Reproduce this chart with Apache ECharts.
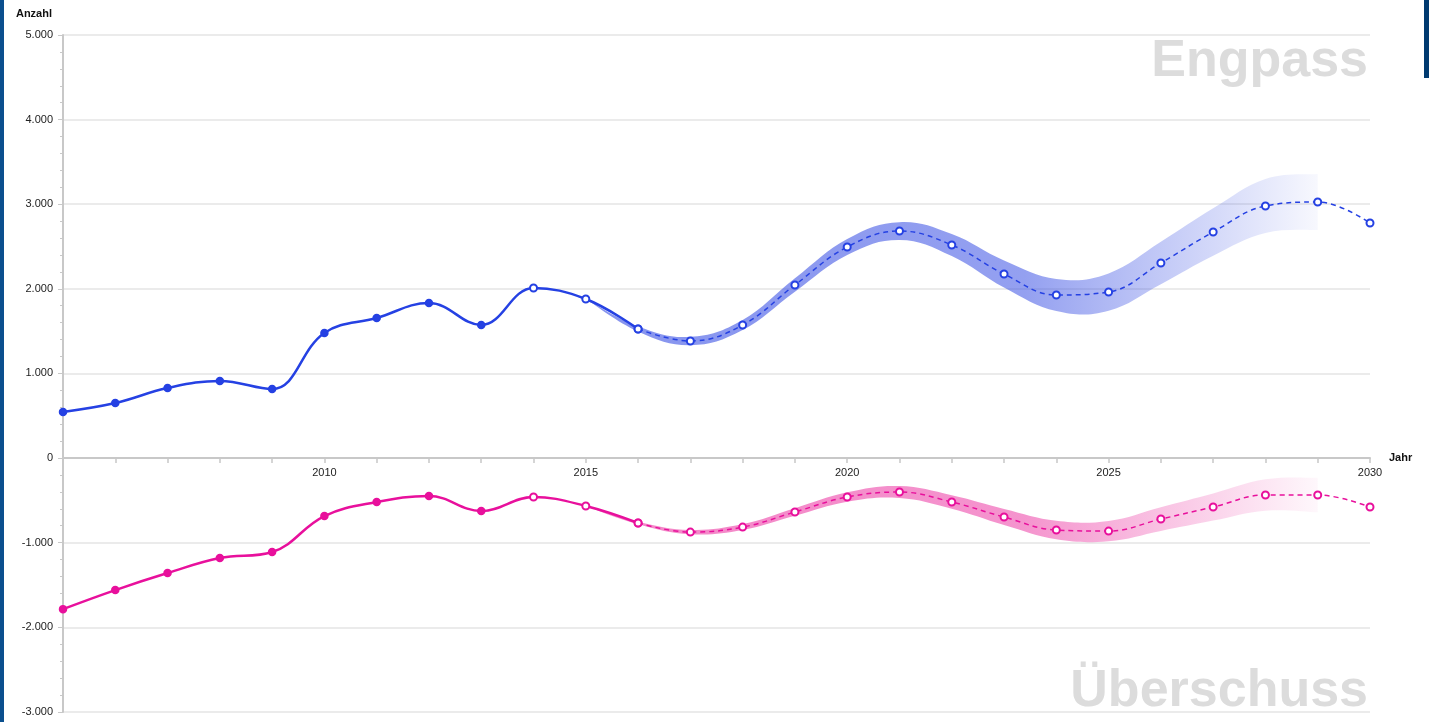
<!DOCTYPE html>
<html>
<head>
<meta charset="utf-8">
<title>Engpass / Überschuss</title>
<script src="https://cdn.jsdelivr.net/npm/echarts@6/dist/echarts.min.js"></script>
<style>
  html, body { margin: 0; padding: 0; background: #fff; }
  #chart { width: 1429px; height: 722px; }
</style>
</head>
<body>
<div id="chart"></div>
<script>
// Jahre
var years = [2005, 2006, 2007, 2008, 2009, 2010, 2011, 2012, 2013, 2014, 2015, 2016, 2017,
             2018, 2019, 2020, 2021, 2022, 2023, 2024, 2025, 2026, 2027, 2028, 2029, 2030];

// Engpass (blau)
var engpass = [545, 650, 827, 910, 815, 1478, 1655, 1832, 1572, 2009, 1879, 1525, 1383,
               1572, 2045, 2494, 2683, 2518, 2175, 1927, 1962, 2305, 2671, 2979, 3026, 2778];

// Überschuss (pink)
var ueberschuss = [-1785, -1560, -1359, -1182, -1111, -686, -520, -449, -626, -461, -567, -768, -875,
                   -816, -638, -461, -402, -520, -697, -851, -863, -721, -579, -437, -437, -579];

// bis hier gefüllte Punkte, bis lastSolidYear durchgezogene Linie
var lastFilledYear = 2013;
var lastSolidYear = 2016;

// Unsicherheitsbereich 2015..2029
var bandYears = [2015, 2016, 2017, 2018, 2019, 2020, 2021, 2022, 2023, 2024, 2025, 2026, 2027, 2028, 2029];
var engpassLow  = [1879, 1495, 1333, 1512, 1965, 2399, 2578, 2388, 2015, 1737, 1742, 2055, 2391, 2659, 2696];
var engpassHigh = [1879, 1555, 1433, 1632, 2125, 2589, 2788, 2648, 2335, 2117, 2182, 2555, 2951, 3299, 3356];
var ueberLow  = [-567, -783, -900, -851, -683, -516, -472, -600, -792, -961, -983, -861, -739, -622, -642];
var ueberHigh = [-567, -753, -850, -781, -593, -406, -332, -440, -602, -741, -743, -581, -419, -252, -232];

var BLUE = '#2541e3';
var PINK = '#e8109c';
var FONT = '"Liberation Sans", Arial, sans-serif';

var chart = echarts.init(document.getElementById('chart'));

function fmt(v) {
  var s = Math.abs(v).toString().replace(/\B(?=(\d{3})+(?!\d))/g, '.');
  return (v < 0 ? '-' : '') + s;
}

function pointData(vals, from, to) {
  var out = [];
  for (var i = 0; i < years.length; i++) {
    if (years[i] < from || years[i] > to) continue;
    out.push({
      value: [years[i], vals[i]],
      symbol: years[i] <= lastFilledYear ? 'circle' : 'emptyCircle'
    });
  }
  return out;
}

// glatter Pfad durch Punkte (kubische Bezier)
function smoothPath(pts, k, moveFirst) {
  var d = (moveFirst ? 'M' : 'L') + pts[0][0] + ',' + pts[0][1];
  for (var i = 0; i < pts.length - 1; i++) {
    var p0 = pts[Math.max(i - 1, 0)], p1 = pts[i], p2 = pts[i + 1], p3 = pts[Math.min(i + 2, pts.length - 1)];
    var c1x = p1[0] + (p2[0] - p0[0]) * k, c1y = p1[1] + (p2[1] - p0[1]) * k;
    var c2x = p2[0] - (p3[0] - p1[0]) * k, c2y = p2[1] - (p3[1] - p1[1]) * k;
    d += ' C' + c1x + ',' + c1y + ' ' + c2x + ',' + c2y + ' ' + p2[0] + ',' + p2[1];
  }
  return d;
}

function bandSeries(low, high, rgb, gridIdx) {
  var data = [];
  for (var i = 0; i < bandYears.length; i++) data.push([bandYears[i], low[i], high[i]]);
  return {
    type: 'custom', xAxisIndex: gridIdx, yAxisIndex: gridIdx, z: 1, silent: true,
    data: data,
    encode: { x: 0, y: [1, 2] },
    renderItem: function (params, api) {
      if (params.dataIndex !== 0) return null;
      var up = [], lo = [];
      for (var i = 0; i < data.length; i++) {
        up.push(api.coord([data[i][0], data[i][2]]));
        lo.push(api.coord([data[i][0], data[i][1]]));
      }
      lo.reverse();
      var d = smoothPath(up, 0.2, true) + ' ' + smoothPath(lo, 0.2, false) + ' Z';
      return {
        type: 'path',
        shape: { pathData: d },
        style: {
          fill: new echarts.graphic.LinearGradient(0, 0, 1, 0, [
            { offset: 0, color: 'rgba(' + rgb + ',0.62)' },
            { offset: 0.6, color: 'rgba(' + rgb + ',0.55)' },
            { offset: 1, color: 'rgba(' + rgb + ',0.04)' }
          ]),
          stroke: 'none'
        }
      };
    }
  };
}

function lineSeries(vals, color, gridIdx) {
  return [
    {
      type: 'line', xAxisIndex: gridIdx, yAxisIndex: gridIdx,
      data: pointData(vals, 2005, lastSolidYear), smooth: 0.4,
      symbolSize: 7, showAllSymbol: true, z: 3,
      lineStyle: { color: color, width: 2.5 },
      itemStyle: { color: color, borderColor: color, borderWidth: 1.5 }
    },
    {
      type: 'line', xAxisIndex: gridIdx, yAxisIndex: gridIdx,
      data: pointData(vals, lastSolidYear, 2030), smooth: 0.4,
      symbolSize: 7, showAllSymbol: true, z: 4,
      lineStyle: { color: color, width: 1.5, type: [5, 4] },
      itemStyle: { color: color, borderColor: color, borderWidth: 1.5 }
    }
  ];
}

var axisGrey = '#c8c8c8';

function xAxisCfg(gridIdx, show) {
  return {
    gridIndex: gridIdx, type: 'value', min: 2005, max: 2030, interval: 1,
    position: 'bottom',
    name: show ? 'Jahr' : '', nameLocation: 'end', nameGap: 19,
    nameTextStyle: { fontWeight: 'bold', fontSize: 11, color: '#111', align: 'left', fontFamily: FONT },
    axisLine: { show: show, onZero: false, lineStyle: { color: axisGrey, width: 2 } },
    axisTick: { show: show, length: 5, lineStyle: { color: axisGrey, width: 1.5 } },
    axisLabel: {
      show: show, fontSize: 11, color: '#222', margin: 9, fontFamily: FONT,
      formatter: function (v) { return (v % 5 === 0 && v > 2005) ? String(v) : ''; }
    },
    splitLine: { show: false }
  };
}

function yAxisCfg(gridIdx, min, max) {
  return {
    gridIndex: gridIdx, type: 'value', min: min, max: max, interval: 1000,
    name: gridIdx === 0 ? 'Anzahl' : '', nameLocation: 'end', nameGap: 16,
    nameTextStyle: { fontWeight: 'bold', fontSize: 11, color: '#111', align: 'right', padding: [0, 11, 0, 0], fontFamily: FONT },
    axisLine: { show: true, onZero: false, lineStyle: { color: axisGrey, width: 2 } },
    axisTick: { show: true, length: 5, lineStyle: { color: axisGrey } },
    minorTick: { show: true, splitNumber: 5, length: 3, lineStyle: { color: axisGrey } },
    axisLabel: {
      fontSize: 11, color: '#222', margin: 10, fontFamily: FONT,
      showMaxLabel: gridIdx === 0, formatter: fmt
    },
    splitLine: { show: true, lineStyle: { color: '#e4e4e4', width: 1.5 } }
  };
}

var option = {
  backgroundColor: '#fff',
  animation: false,
  textStyle: { fontFamily: FONT },
  grid: [
    { left: 63, right: 59, top: 35, height: 423, outerBoundsMode: 'none', containLabel: false },
    { left: 63, right: 59, top: 458, bottom: 10, outerBoundsMode: 'none', containLabel: false }
  ],
  xAxis: [xAxisCfg(0, true), xAxisCfg(1, false)],
  yAxis: [yAxisCfg(0, 0, 5000), yAxisCfg(1, -3000, 0)],
  graphic: [
    { type: 'rect', left: 0, top: 0, shape: { width: 4, height: 722 }, style: { fill: '#0b4f8e' }, z: 100 },
    { type: 'rect', left: 1424, top: 0, shape: { width: 5, height: 78 }, style: { fill: '#003a70' }, z: 100 },
    {
      type: 'text', right: 61, top: 36, z: -1,
      style: { text: 'Engpass', font: 'bold 52px ' + FONT, fill: '#dcdcdc' }
    },
    {
      type: 'text', right: 61, top: 666, z: -1,
      style: { text: 'Überschuss', font: 'bold 52px ' + FONT, fill: '#dcdcdc' }
    }
  ],
  series: [
    bandSeries(engpassLow, engpassHigh, '60,82,228', 0),
    bandSeries(ueberLow, ueberHigh, '236,60,165', 1)
  ]
    .concat(lineSeries(engpass, BLUE, 0))
    .concat(lineSeries(ueberschuss, PINK, 1))
};

chart.setOption(option);
</script>
</body>
</html>
